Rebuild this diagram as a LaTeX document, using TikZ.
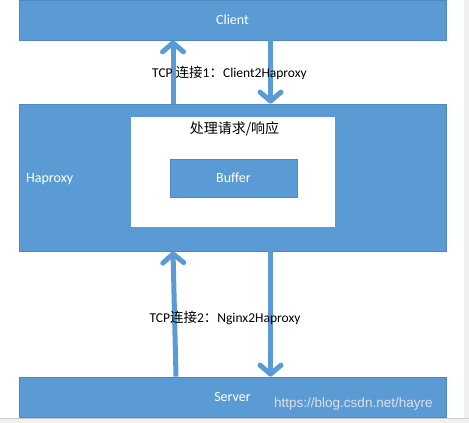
\documentclass[tikz,border=0pt]{standalone}
\usepackage{fontspec}
\setmainfont{Carlito}
\newfontfamily\cjk{Noto Sans CJK SC}
\newfontfamily\wm{Liberation Sans}
\usetikzlibrary{arrows.meta}
\definecolor{boxblue}{HTML}{5B9BD5}
\definecolor{boxedge}{HTML}{4F88C0}
\definecolor{margingray}{HTML}{F0F0F0}
\definecolor{wmgray}{HTML}{DCDFE3}
\tikzset{
  bluebox/.style={rectangle, fill=boxblue, draw=boxedge, line width=0.8pt, text=white, font=\fontsize{14}{16}\selectfont, inner sep=0pt},
  flowarrow/.style={draw=boxblue, line width=5pt, -{Straight Barb[length=9pt,width=21pt,line width=5pt,round]}},
  lbl/.style={font=\fontsize{13.5}{15}\selectfont, text=black, inner sep=0pt}
}
\begin{document}
\begin{tikzpicture}[x=1pt,y=-1pt]
\useasboundingbox (0,0) rectangle (469,423);
\fill[white] (0,0) rectangle (469,423);
\fill[margingray] (464,0) rectangle (469,423);
\fill[margingray] (0,418) rectangle (469,423);
\draw[gray!40, line width=0.6pt] (0,418) -- (469,418);

\node[bluebox, minimum width=427pt, minimum height=40pt] (client) at (232.5,20) {Client};
\node[bluebox, minimum width=427pt, minimum height=147pt] (haproxy) at (232.5,177.5) {};
\node[rectangle, fill=white, minimum width=204pt, minimum height=110pt, inner sep=0pt] (proc) at (233,172) {};
\node[lbl, font=\cjk\fontsize{14}{16}\selectfont] (proclbl) at (234.5,129) {处理请求/响应};
\node[bluebox, minimum width=127pt, minimum height=38pt] (buffer) at (233.5,178) {Buffer};
\node[text=white, font=\fontsize{14}{16}\selectfont, anchor=west, inner sep=0pt] (haplbl) at (26,179) {Haproxy};
\node[bluebox, minimum width=427pt, minimum height=40pt] (server) at (232.5,397) {Server};

\coordinate (xl) at (173,0);
\coordinate (xr) at (270.5,0);
\coordinate (xlb) at (176,0);

\draw[flowarrow] (haproxy.north -| xl) -- (client.south -| xl);
\draw[flowarrow] (client.south -| xr) -- (haproxy.north -| xr);
\draw[flowarrow] (server.north -| xlb) -- (haproxy.south -| xl);
\draw[flowarrow] (haproxy.south -| xr) -- (server.north -| xr);

\node[lbl] (tcp1) at (229.5,73) {TCP {\cjk 连接}1{\cjk ：}Client2Haproxy};
\node[lbl] (tcp2) at (225,318) {TCP{\cjk 连接}2{\cjk ：}Nginx2Haproxy};

\node[font=\wm\fontsize{13.5}{15}\selectfont, text=wmgray, anchor=west, inner sep=0pt] (wmark) at (274,404) {https://blog.csdn.net/hayre};
\end{tikzpicture}
\end{document}
